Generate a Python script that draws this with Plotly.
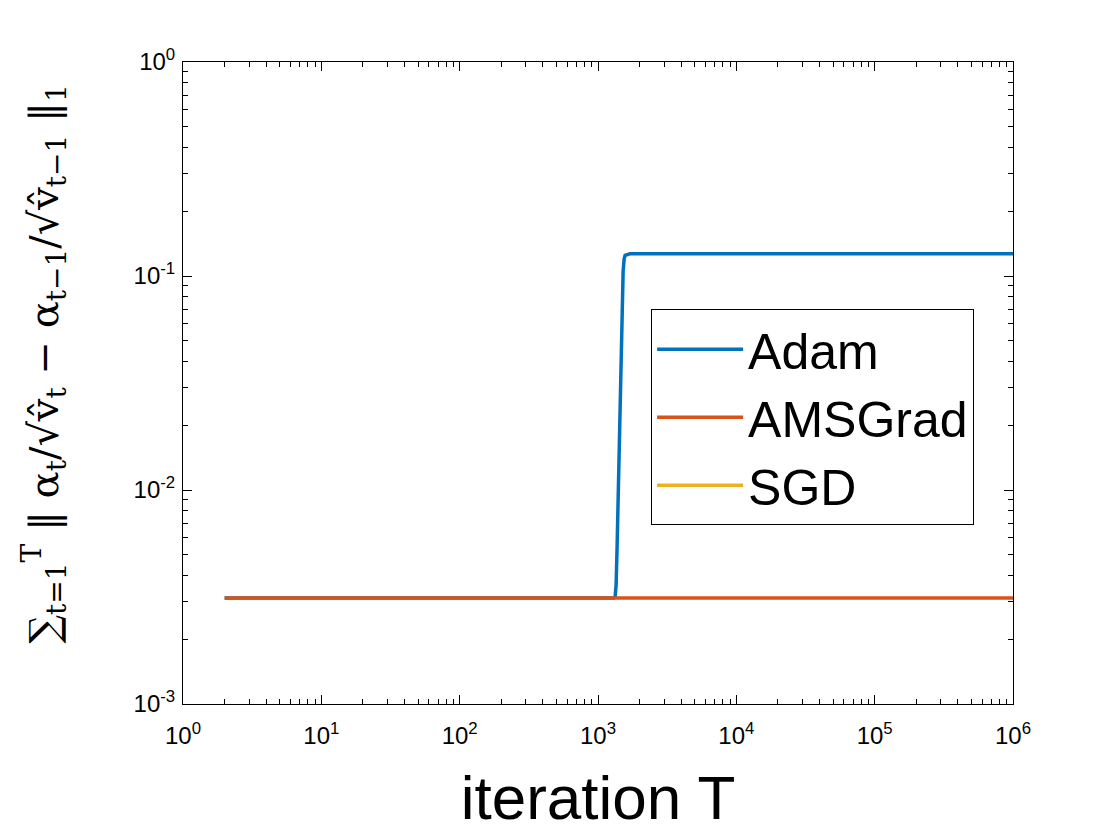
import plotly.graph_objects as go

# iteration counts and summed step-size differences
adam_T = [2, 100, 1000, 1300, 1330, 1352, 1375, 1398, 1421, 1444, 1468,
          1494, 1519, 1545, 1570, 1700, 10000, 1000000]
adam_y = [0.00313, 0.00313, 0.00313, 0.00313, 0.00316, 0.0036, 0.0055,
          0.0090, 0.0146, 0.0237, 0.040, 0.072, 0.105, 0.120, 0.125,
          0.127, 0.127, 0.127]

amsgrad_T = [2, 10, 100, 1000, 10000, 100000, 1000000]
amsgrad_y = [0.00313, 0.00313, 0.00313, 0.00313, 0.00313, 0.00313, 0.00313]

# SGD has a constant step, so the difference is zero and nothing shows on a log axis
sgd_T = [2, 10, 100, 1000, 10000, 100000, 1000000]
sgd_y = [0, 0, 0, 0, 0, 0, 0]

x_tickvals = [1, 10, 100, 1000, 10000, 100000, 1000000]
x_ticktext = ["10<sup>0</sup>", "10<sup>1</sup>", "10<sup>2</sup>", "10<sup>3</sup>",
              "10<sup>4</sup>", "10<sup>5</sup>", "10<sup>6</sup>"]
y_tickvals = [0.001, 0.01, 0.1, 1]
y_ticktext = ["10<sup>-3</sup>", "10<sup>-2</sup>", "10<sup>-1</sup>", "10<sup>0</sup>"]

# minor ticks at 2..9 of every decade
x_minor = [m * 10 ** d for d in range(0, 6) for m in range(2, 10)]
y_minor = [m * 10.0 ** d for d in range(-3, 0) for m in range(2, 10)]

fig = go.Figure()
fig.add_trace(go.Scatter(x=adam_T, y=adam_y, mode="lines", name="Adam",
                         line=dict(color="#0072BD", width=3.5)))
fig.add_trace(go.Scatter(x=amsgrad_T, y=amsgrad_y, mode="lines", name="AMSGrad",
                         line=dict(color="#D95319", width=3.5)))
fig.add_trace(go.Scatter(x=sgd_T, y=sgd_y, mode="lines", name="SGD",
                         line=dict(color="#EDB120", width=3.5)))

tick_font = dict(family="Liberation Sans, Arial", size=24, color="black")
axis_common = dict(
    type="log", showgrid=False, zeroline=False,
    showline=True, linecolor="black", linewidth=1, mirror="ticks",
    ticks="inside", ticklen=9, tickcolor="black", tickwidth=1,
    tickfont=tick_font,
)

fig.update_xaxes(axis_common, range=[0, 6], tickvals=x_tickvals, ticktext=x_ticktext,
                 ticklabelstandoff=10,
                 minor=dict(tickvals=x_minor, ticks="inside", ticklen=5,
                            tickcolor="black", tickwidth=1, showgrid=False),
                 title=dict(text="iteration T", standoff=27,
                            font=dict(family="Liberation Sans, Arial", size=62, color="black")))
fig.update_yaxes(axis_common, range=[-3, 0], tickvals=y_tickvals, ticktext=y_ticktext,
                 ticklabelstandoff=2,
                 minor=dict(tickvals=y_minor, ticks="inside", ticklen=5,
                            tickcolor="black", tickwidth=1, showgrid=False))

fig.add_annotation(
    xref="paper", yref="paper", x=-0.205, y=0.53, showarrow=False, textangle=-90,
    text="∑<sub>t=1</sub><sup>T</sup> ‖ α<sub>t</sub>/√v̂<sub>t</sub> − "
         "α<sub>t−1</sub>/√v̂<sub>t−1</sub> ‖<sub>1</sub>",
    font=dict(family="DejaVu Serif", size=40, color="black"),
)

fig.update_layout(
    width=1120, height=840,
    margin=dict(l=175, r=115, t=54, b=144),
    paper_bgcolor="white", plot_bgcolor="white",
    legend=dict(x=0.564, y=0.615, xanchor="left", yanchor="top",
                bordercolor="black", borderwidth=1, bgcolor="white",
                font=dict(family="Liberation Sans, Arial", size=50, color="black"),
                tracegroupgap=0, itemwidth=86),
    showlegend=True,
)

fig.write_html("out.html")
